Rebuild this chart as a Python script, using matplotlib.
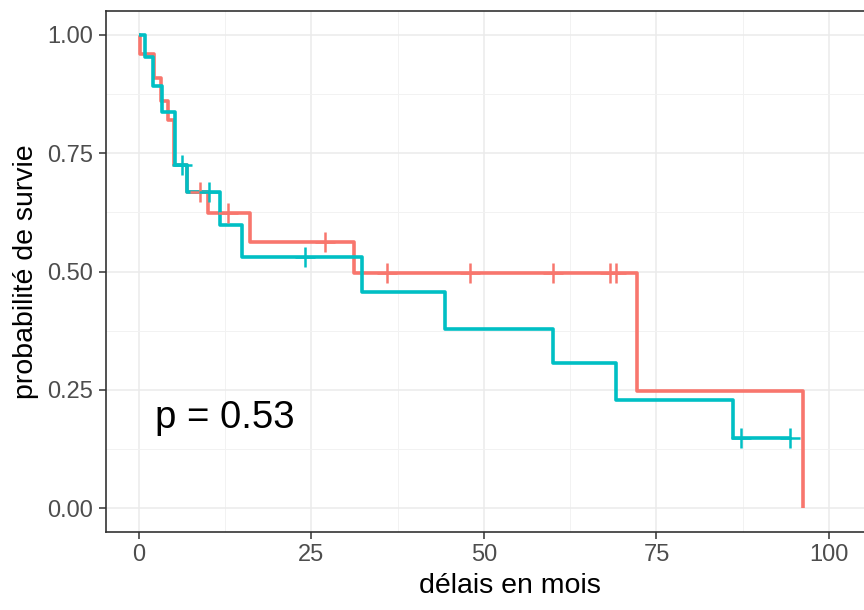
import numpy as np
import matplotlib
matplotlib.use('Agg')
import matplotlib.pyplot as plt
from matplotlib.ticker import FixedLocator

# Kaplan-Meier steps (months, survival)
red_time = [0, 0.2, 2.2, 3.2, 4.2, 5.1, 7.0, 10.0, 16.1, 31.2, 72.2, 96.2]
red_surv = [1.0, 0.96, 0.91, 0.86, 0.82, 0.725, 0.669, 0.624, 0.563, 0.497, 0.248, 0.0]
red_cens = [8.8, 12.9, 27.0, 35.9, 48.0, 60.0, 68.3, 69.1]

teal_time = [0, 0.9, 2.1, 3.3, 5.2, 7.0, 11.7, 14.9, 32.3, 44.3, 60.0, 69.2, 86.1, 94.3]
teal_surv = [1.0, 0.954, 0.893, 0.837, 0.725, 0.669, 0.598, 0.531, 0.457, 0.378, 0.306, 0.228, 0.149, 0.149]
teal_cens = [6.2, 10.1, 24.1, 87.3, 94.3]

x_ticks = [0, 25, 50, 75, 100]
y_ticks = [0.0, 0.25, 0.5, 0.75, 1.0]
y_tick_labels = ['0.00', '0.25', '0.50', '0.75', '1.00']
pval_text = 'p = 0.53'

RED = '#F8766D'
TEAL = '#00BFC4'


def surv_at(times, surv, t):
    idx = np.searchsorted(times, t, side='right') - 1
    return np.asarray(surv)[idx]


def main():
    plt.rcParams['font.family'] = ['Liberation Sans', 'DejaVu Sans']
    fig = plt.figure(figsize=(8.64, 6.10), dpi=100)
    W, H = 864, 610
    # panel is cut off on the right in the reference
    left, right, top, bottom = 106, 914, 11.3, 531.7
    ax = fig.add_axes([left / W, 1 - bottom / H, (right - left) / W, (bottom - top) / H])

    ax.set_xlim(-4.78, (right - 139) / 6.9)
    ax.set_ylim(-0.05, 1.05)

    # grid like theme_bw
    ax.xaxis.set_major_locator(FixedLocator(x_ticks))
    ax.xaxis.set_minor_locator(FixedLocator([12.5, 37.5, 62.5, 87.5]))
    ax.yaxis.set_major_locator(FixedLocator(y_ticks))
    ax.yaxis.set_minor_locator(FixedLocator([0.125, 0.375, 0.625, 0.875]))
    ax.grid(which='major', color='#EBEBEB', lw=1.1)
    ax.grid(which='minor', color='#F2F2F2', lw=0.7)
    ax.set_axisbelow(True)
    ax.tick_params(which='minor', length=0)
    ax.tick_params(which='major', length=5, width=1.1, color='#333333',
                   labelsize=17, labelcolor='#4D4D4D', pad=4)
    ax.set_yticklabels(y_tick_labels)
    for sp in ax.spines.values():
        sp.set_color('#333333')
        sp.set_linewidth(1.2)

    for times, surv, cens, col in [(red_time, red_surv, red_cens, RED),
                                   (teal_time, teal_surv, teal_cens, TEAL)]:
        ax.step(times, surv, where='post', color=col, lw=2.6, zorder=3,
                solid_joinstyle='round', solid_capstyle='butt')
        cy = [surv_at(times, surv, c) for c in cens]
        ax.plot(cens, cy, ls='none', marker='+', ms=14, mew=1.8, color=col, zorder=4)

    ax.text(2.3, 0.19, pval_text, fontsize=27.5, ha='left', va='center', color='black')

    ax.set_xlabel('délais en mois', fontsize=20.5, labelpad=5)
    ax.set_ylabel('probabilité de survie', fontsize=20.5, labelpad=6)

    fig.savefig('out.png', dpi=100)


if __name__ == '__main__':
    main()
